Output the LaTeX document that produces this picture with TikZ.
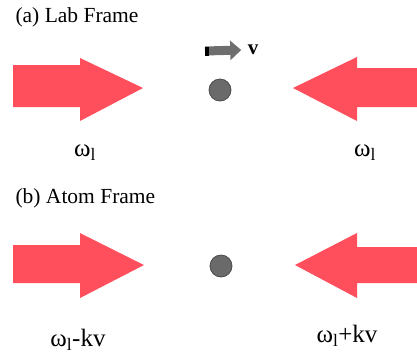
\documentclass[tikz,border=0pt]{standalone}
\usepackage{fontspec}
\setmainfont{Liberation Serif}
\usetikzlibrary{arrows.meta}
\definecolor{beamred}{HTML}{FF4F5C}
\definecolor{atomgray}{HTML}{6A6A6A}
\definecolor{velgray}{HTML}{6E6E6E}
\tikzset{
    beam/.style={fill=beamred, draw=none},
    atom/.style={circle, fill=atomgray, draw=black!70, line width=0.8pt, minimum size=22pt, inner sep=0pt},
    title/.style={anchor=west, font=\fontsize{21.5}{24}\selectfont},
    freq/.style={font=\fontsize{25}{28}\selectfont}
}
\begin{document}
\begin{tikzpicture}[x=1pt, y=-1pt]
    \useasboundingbox (0,0) rectangle (417,354);

    % (a) Lab frame
    \node[title] (titleA) at (12,17) {(a) Lab Frame};
    \draw[beam] (13,65) -- (80,65) -- (80,58) -- (143,88) -- (80,121) -- (80,107) -- (13,107) -- cycle;
    \draw[beam] (417,68) -- (357,68) -- (357,57) -- (293,88) -- (357,121) -- (357,107) -- (417,107) -- cycle;
    \node[atom] (atomA) at (220,90) {};
    \coordinate (vtail) at (205,51);
    \node[font=\fontsize{21}{24}\selectfont\bfseries] (vlab) at (253,50) {v};
    \draw[velgray, line width=9pt, -{Triangle[width=19pt, length=11pt]}] (vtail) -- ([xshift=-3pt]vlab.west);
    \fill[black] (205,46.5) rectangle (209,55.5);
    \node[freq] (leftA) at (85,153) {ω\textsubscript{l}};
    \node[freq] (rightA) at (365,153) {ω\textsubscript{l}};

    % (b) Atom frame
    \node[title] (titleB) at (12,198) {(b) Atom Frame};
    \draw[beam] (13,245) -- (80,245) -- (80,233) -- (144,265) -- (80,298) -- (80,283) -- (13,283) -- cycle;
    \draw[beam] (417,247) -- (357,247) -- (357,233) -- (295,265) -- (357,298) -- (357,283) -- (417,283) -- cycle;
    \node[atom] (atomB) at (221,266) {};
    \node[freq] (leftB) at (78,340) {ω\textsubscript{l}-kv};
    \node[freq] (rightB) at (347,336) {ω\textsubscript{l}+kv};
\end{tikzpicture}
\end{document}
